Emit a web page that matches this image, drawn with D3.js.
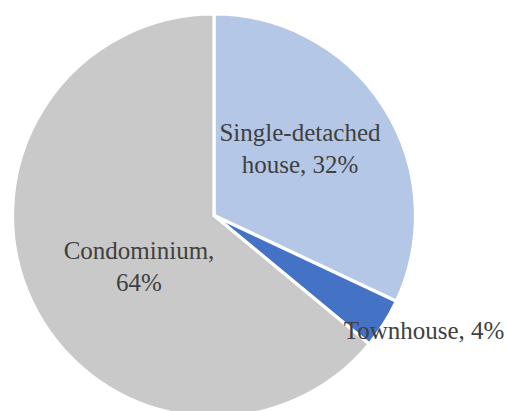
<!DOCTYPE html>
<html>
<head>
  <title>Housing type</title>
  <style>
    body { margin: 0; background: #fff; }
    svg { display: block; }
  </style>
</head>
<body>
<svg width="509" height="411" class="svg-pie"></svg>
<script src="https://cdnjs.cloudflare.com/ajax/libs/d3/7.8.5/d3.min.js"></script>
<script type="text/javascript">
  // data
  var categories = ['Single-detached house', 'Townhouse', 'Condominium']
  var shares = [32, 4, 64]
  var labelLines = [['Single-detached', 'house, 32%'], ['Townhouse, 4%'], ['Condominium,', '64%']]
  var colors = ['#b4c7e7', '#4472c4', '#c9c9c9']

  // where each label sits relative to the pie centre
  var labelOffsets = [[86, -67], [210, 115], [-75, 51]]

  var svg = d3.select('.svg-pie')
  var cx = 214, cy = 215.5, radius = 201.5

  var g = svg.append('g').attr('transform', 'translate(' + cx + ',' + cy + ')')

  var pie = d3.pie().sort(null).value(function(d){ return d })
  var arc = d3.arc().innerRadius(0).outerRadius(radius)
  var arcs = pie(shares)

  g.selectAll('path')
    .data(arcs)
    .enter()
    .append('path')
    .attr('d', arc)
    .attr('fill', function(d, i){ return colors[i] })
    .attr('stroke', '#fff')
    .attr('stroke-width', 3.2)
    .attr('stroke-linejoin', 'miter')

  var lineHeight = 32
  var labels = g.selectAll('text')
    .data(arcs)
    .enter()
    .append('text')
    .attr('text-anchor', 'middle')
    .attr('font-family', '"Liberation Serif", "Times New Roman", serif')
    .attr('font-size', 25)
    .attr('fill', '#404040')
    .attr('transform', function(d, i){
      return 'translate(' + labelOffsets[i][0] + ',' + labelOffsets[i][1] + ')'
    })

  labels.each(function(d, i){
    var lines = labelLines[i]
    var startY = -(lines.length - 1) * lineHeight / 2
    d3.select(this).selectAll('tspan')
      .data(lines)
      .enter()
      .append('tspan')
      .attr('x', 0)
      .attr('y', function(l, j){ return startY + j * lineHeight })
      .attr('dy', '0.35em')
      .text(function(l){ return l })
  })
</script>
</body>
</html>
